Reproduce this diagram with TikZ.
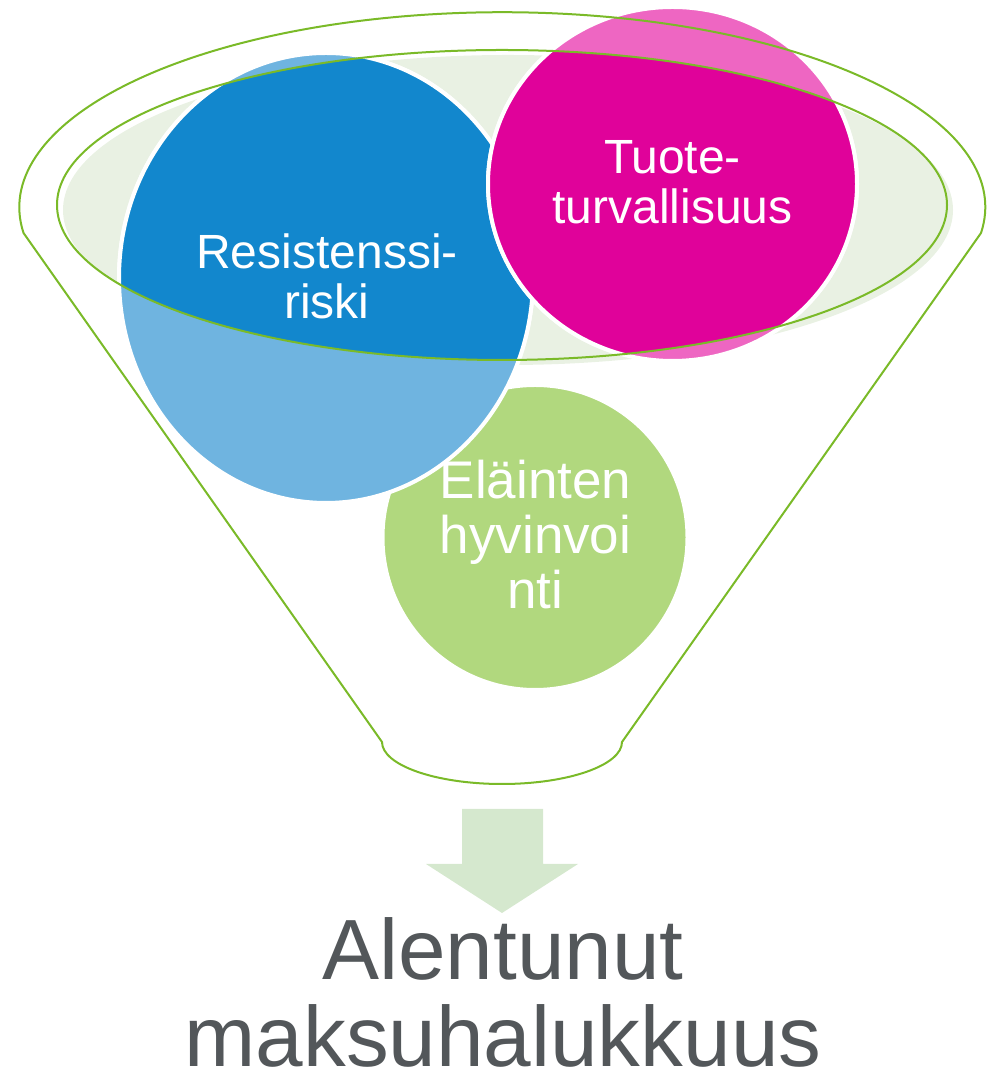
\documentclass[tikz,border=0pt]{standalone}
\usepackage{fontspec}
\setmainfont{Liberation Sans}
\usetikzlibrary{positioning}
\definecolor{rimgreen}{RGB}{122,186,40}
\definecolor{topfill}{RGB}{233,241,227}
\definecolor{bluedark}{RGB}{18,135,205}
\definecolor{bluelight}{RGB}{111,180,224}
\definecolor{magdark}{RGB}{224,2,154}
\definecolor{maglight}{RGB}{238,102,194}
\definecolor{leafgreen}{RGB}{177,216,126}
\definecolor{arrowgreen}{RGB}{213,232,206}
\definecolor{outgray}{RGB}{83,87,90}

\begin{document}
\begin{tikzpicture}[x=1pt,y=1pt,
  rim/.style={draw=rimgreen,line width=2pt},
  ball/.style={draw=white,line width=4pt},
  balltext/.style={text=white,align=center,inner sep=0pt}]
\useasboundingbox (0,0) rectangle (986,1073);

\fill[topfill] (508,863) ellipse [x radius=445,y radius=155];

\filldraw[ball,fill=leafgreen] (535,535.5) ellipse [x radius=152.5,y radius=152.5];
\filldraw[ball,fill=bluelight] (326,795) ellipse [x radius=207,y radius=225];
\begin{scope}
\clip (502,868) ellipse [x radius=445,y radius=155];
\filldraw[ball,fill=bluedark] (326,795) ellipse [x radius=207,y radius=225];
\end{scope}
\filldraw[ball,fill=maglight] (672.5,889) ellipse [x radius=184.5,y radius=177];
\begin{scope}
\clip (502,868) ellipse [x radius=445,y radius=155];
\filldraw[ball,fill=magdark] (672.5,889) ellipse [x radius=184.5,y radius=177];
\end{scope}

\draw[rim] (502,868) ellipse [x radius=445,y radius=155];
\draw[rim] (981,840) arc[start angle=-7.6,end angle=187.6,x radius=483,y radius=195]
  -- (382,331) arc[start angle=180,end angle=360,x radius=120,y radius=42] -- cycle;

\node[balltext,font=\fontsize{48}{50}\selectfont] (res) at (327,797) {Resistenssi-\\riski};
\node[balltext,font=\fontsize{48}{50}\selectfont] (tuote) at (672.5,891) {Tuote-\\turvallisuus};
\node[balltext,font=\fontsize{53}{55}\selectfont] (elain) at (535.5,538) {Eläinten\\hyvinvoi\\nti};

\fill[arrowgreen] (462,264) -- (543,264) -- (543,209) -- (578,209) -- (502,160)
  -- (426,209) -- (462,209) -- cycle;

\node[text=outgray,align=center,inner sep=0pt,font=\fontsize{85.5}{87}\selectfont] (alen) at (503,81) {Alentunut\\maksuhalukkuus};

\end{tikzpicture}
\end{document}
